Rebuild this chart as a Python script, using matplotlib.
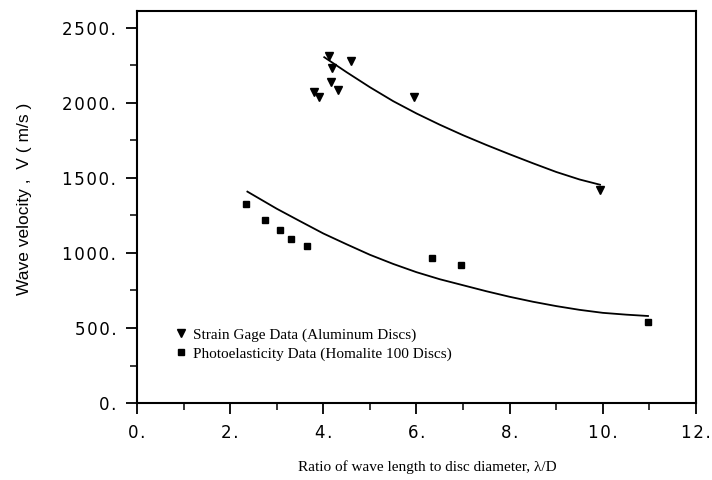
import matplotlib
matplotlib.use("Agg")
import matplotlib.pyplot as plt
from matplotlib.ticker import MultipleLocator, FuncFormatter

# strain gage measurements, aluminum discs
sg_ratio = [4.12, 4.59, 4.19, 4.16, 4.31, 3.80, 3.91, 5.94, 9.94]
sg_speed = [2315, 2278, 2231, 2140, 2085, 2071, 2038, 2038, 1420]

# photoelasticity measurements, Homalite 100 discs
pe_ratio = [2.35, 2.74, 3.06, 3.31, 3.64, 6.33, 6.95, 10.97]
pe_speed = [1327, 1220, 1153, 1093, 1049, 964, 922, 538]

# fitted curves through each data set
sg_fit_x = [4.02, 4.5, 5.0, 5.5, 6.0, 6.5, 7.0, 7.5, 8.0, 8.5, 9.0, 9.5, 9.94]
sg_fit_y = [2305, 2205, 2105, 2012, 1930, 1855, 1785, 1720, 1658, 1598, 1540, 1490, 1455]
pe_fit_x = [2.37, 3.0, 3.5, 4.0, 4.5, 5.0, 5.5, 6.0, 6.5, 7.0, 7.5, 8.0, 8.5, 9.0,
            9.5, 10.0, 10.5, 10.97]
pe_fit_y = [1409, 1295, 1212, 1130, 1058, 988, 927, 872, 825, 785, 745, 708, 675,
            646, 621, 601, 589, 580]

fig = plt.figure(figsize=(7.12, 4.8), dpi=100)
ax = fig.add_axes([0.1924, 0.1604, 0.7851, 0.8167])

ax.plot(sg_fit_x, sg_fit_y, color="black", lw=1.3)
ax.plot(pe_fit_x, pe_fit_y, color="black", lw=1.3)
ax.plot(sg_ratio, sg_speed, "v", color="black", ms=5.5, ls="none",
        label="Strain Gage Data (Aluminum Discs)")
ax.plot(pe_ratio, pe_speed, "s", color="black", ms=4.5, ls="none",
        label="Photoelasticity Data (Homalite 100 Discs)")

ax.set_xlim(0, 12)
ax.set_ylim(0, 2613)
ax.xaxis.set_major_locator(MultipleLocator(2))
ax.xaxis.set_minor_locator(MultipleLocator(1))
ax.yaxis.set_major_locator(MultipleLocator(500))
ax.yaxis.set_minor_locator(MultipleLocator(250))


def spaced(v, pos):
    s = "%g." % v
    return "\u200a".join(s)


ax.xaxis.set_major_formatter(FuncFormatter(spaced))
ax.yaxis.set_major_formatter(FuncFormatter(spaced))
ax.tick_params(which="major", direction="out", length=8, width=1.3, pad=7,
               labelsize=12)
ax.tick_params(which="minor", direction="out", length=5, width=1.1)
for lab in ax.get_xticklabels() + ax.get_yticklabels():
    lab.set_family("DejaVu Sans")

for sp in ax.spines.values():
    sp.set_linewidth(1.5)

ax.set_xlabel("Ratio of wave length to disc diameter, λ/D",
              family="Liberation Serif", fontsize=11)
ax.xaxis.set_label_coords(0.52, -0.145)
ax.set_ylabel("Wave velocity ,  V ( m/s )", family="Liberation Sans",
              fontsize=12.5)
ax.yaxis.set_label_coords(-0.188, 0.52)

ax.legend(loc="upper left", bbox_to_anchor=(0.068, 0.192), frameon=False,
          numpoints=1, handlelength=0.8, handletextpad=0.35, labelspacing=0.36,
          borderpad=0, borderaxespad=0,
          prop={"family": "Liberation Serif", "size": 11})

fig.savefig("out.png", dpi=100)
